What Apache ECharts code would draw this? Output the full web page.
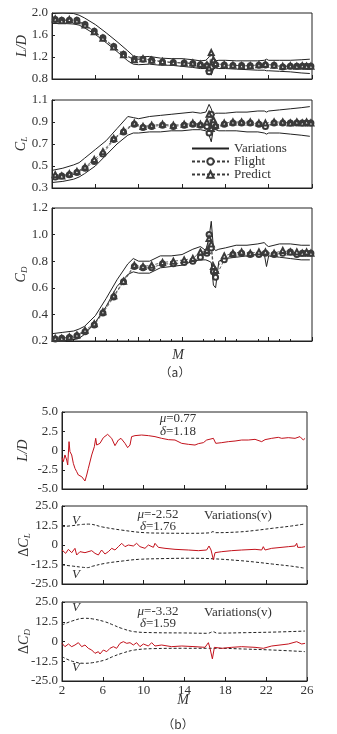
<!DOCTYPE html>
<html>
<head>
<meta charset="utf-8">
<script src="https://cdn.jsdelivr.net/npm/echarts@6/dist/echarts.min.js"></script>
<style>
  html, body { margin: 0; padding: 0; background: #fff; }
  #chart { width: 337px; height: 734px; }
</style>
</head>
<body>
<div id="chart"></div>
<script>
// ---- (a) flight / predict markers ----
const mA = [2.3, 2.9, 3.6, 4.3, 5.05, 5.9, 6.7, 7.7, 8.6, 9.6, 10.4, 11.2, 12.2, 13.2, 14.2, 15.0, 15.7, 16.3, 16.5, 16.7, 16.9, 17.1, 17.9, 18.7, 19.5, 20.3, 21.1, 21.7, 22.5, 23.3, 24.0, 24.6, 25.1, 25.5, 25.9];
const ldFlight = [1.88, 1.87, 1.87, 1.87, 1.79, 1.67, 1.55, 1.39, 1.25, 1.16, 1.16, 1.14, 1.11, 1.10, 1.09, 1.08, 1.06, 1.04, 0.93, 1.02, 1.10, 1.06, 1.055, 1.045, 1.045, 1.04, 1.05, 1.055, 1.05, 1.02, 1.03, 1.03, 1.03, 1.03, 1.03];
const ldPredict = [1.89, 1.86, 1.88, 1.86, 1.78, 1.66, 1.54, 1.38, 1.24, 1.15, 1.17, 1.14, 1.12, 1.10, 1.09, 1.09, 1.07, 1.06, 1.00, 1.28, 1.15, 1.08, 1.06, 1.05, 1.04, 1.04, 1.06, 1.07, 1.05, 1.03, 1.04, 1.03, 1.04, 1.03, 1.03];
const clFlight = [0.40, 0.41, 0.42, 0.44, 0.48, 0.54, 0.61, 0.74, 0.81, 0.88, 0.85, 0.86, 0.87, 0.86, 0.87, 0.88, 0.87, 0.86, 0.80, 0.97, 0.88, 0.86, 0.88, 0.89, 0.89, 0.89, 0.88, 0.86, 0.89, 0.89, 0.89, 0.89, 0.89, 0.89, 0.89];
const clPredict = [0.42, 0.41, 0.43, 0.45, 0.49, 0.56, 0.63, 0.75, 0.82, 0.89, 0.86, 0.87, 0.88, 0.87, 0.88, 0.89, 0.88, 0.90, 0.97, 0.84, 0.92, 0.87, 0.89, 0.90, 0.90, 0.90, 0.89, 0.89, 0.90, 0.90, 0.89, 0.90, 0.89, 0.90, 0.89];
const cdFlight = [0.215, 0.22, 0.227, 0.24, 0.27, 0.32, 0.41, 0.53, 0.645, 0.76, 0.75, 0.75, 0.78, 0.78, 0.79, 0.80, 0.83, 0.86, 1.00, 0.90, 0.72, 0.68, 0.81, 0.85, 0.86, 0.85, 0.85, 0.86, 0.85, 0.86, 0.87, 0.85, 0.86, 0.86, 0.86];
const cdPredict = [0.22, 0.22, 0.23, 0.245, 0.28, 0.33, 0.42, 0.54, 0.65, 0.77, 0.76, 0.77, 0.79, 0.80, 0.81, 0.82, 0.87, 0.88, 0.97, 0.93, 0.76, 0.73, 0.84, 0.86, 0.87, 0.86, 0.87, 0.87, 0.86, 0.88, 0.87, 0.87, 0.86, 0.87, 0.86];

// ---- (a) variation envelopes ----
const mVar = [2.0, 3.0, 4.0, 4.5, 5.0, 6.0, 7.0, 8.0, 9.0, 9.5, 10.0, 11.0, 12.0, 13.0, 14.0, 15.0, 15.7, 16.2, 16.5, 16.7, 16.9, 17.1, 17.4, 18.0, 19.0, 20.0, 21.0, 21.6, 21.8, 22.0, 23.0, 24.0, 25.0, 25.8];
const ldUpper = [1.99, 2.00, 1.99, 1.96, 1.91, 1.79, 1.64, 1.48, 1.31, 1.22, 1.20, 1.21, 1.18, 1.17, 1.17, 1.15, 1.13, 1.14, 1.20, 1.31, 1.18, 1.13, 1.14, 1.14, 1.13, 1.13, 1.13, 1.14, 1.16, 1.14, 1.14, 1.14, 1.15, 1.16];
const ldLower = [1.81, 1.81, 1.80, 1.78, 1.73, 1.61, 1.46, 1.30, 1.13, 1.07, 1.06, 1.07, 1.05, 1.05, 1.03, 1.01, 0.99, 0.99, 0.93, 0.87, 0.98, 1.00, 0.99, 0.99, 0.98, 0.97, 0.96, 0.96, 0.95, 0.95, 0.94, 0.93, 0.91, 0.90];
const clUpper = [0.46, 0.48, 0.51, 0.53, 0.57, 0.65, 0.73, 0.84, 0.95, 0.94, 0.93, 0.95, 0.96, 0.97, 0.98, 0.99, 0.98, 0.99, 1.06, 1.02, 0.96, 0.98, 0.98, 0.98, 0.99, 0.99, 1.00, 1.00, 0.99, 1.00, 1.01, 1.02, 1.03, 1.04];
const clLower = [0.35, 0.36, 0.38, 0.40, 0.43, 0.50, 0.60, 0.70, 0.78, 0.80, 0.80, 0.81, 0.81, 0.82, 0.82, 0.83, 0.83, 0.82, 0.78, 0.72, 0.84, 0.83, 0.82, 0.82, 0.82, 0.81, 0.81, 0.80, 0.79, 0.80, 0.80, 0.79, 0.78, 0.77];
const cdUpper = [0.255, 0.265, 0.275, 0.29, 0.31, 0.39, 0.52, 0.66, 0.78, 0.82, 0.80, 0.80, 0.84, 0.84, 0.85, 0.89, 0.91, 0.88, 0.98, 1.10, 0.90, 0.88, 0.89, 0.90, 0.92, 0.92, 0.93, 0.94, 0.92, 0.91, 0.93, 0.93, 0.92, 0.92];
const cdLower = [0.20, 0.20, 0.21, 0.22, 0.25, 0.34, 0.46, 0.61, 0.70, 0.72, 0.71, 0.71, 0.75, 0.76, 0.77, 0.80, 0.81, 0.81, 0.80, 0.79, 0.62, 0.60, 0.80, 0.82, 0.83, 0.84, 0.85, 0.85, 0.76, 0.84, 0.83, 0.82, 0.81, 0.81];

// ---- (b) deviations ----
const mLdB = [2.0, 2.13, 2.29, 2.46, 2.56, 2.69, 2.78, 2.95, 3.11, 3.27, 3.44, 3.60, 3.76, 3.93, 4.09, 4.25, 4.42, 4.58, 4.91, 5.17, 5.30, 5.40, 5.72, 6.05, 6.47, 6.87, 7.19, 7.52, 7.78, 8.17, 8.43, 8.66, 8.82, 9.15, 9.80, 10.46, 11.11, 11.76, 12.42, 13.07, 13.72, 14.38, 15.03, 15.36, 15.85, 16.17, 16.34, 16.83, 17.06, 17.65, 18.30, 18.95, 19.60, 20.25, 20.91, 21.56, 21.89, 22.54, 23.19, 23.52, 24.17, 24.83, 25.31, 25.64, 25.81];
const ldDelta = [-0.93, -1.45, -0.58, -1.23, -1.88, 1.15, -0.15, -0.58, -1.67, -2.32, -2.75, -3.18, -2.97, -3.40, -3.18, -3.96, -3.18, -2.32, -0.58, 0.50, 1.58, 0.71, 0.93, 1.67, 2.10, 1.58, 0.63, 1.36, 1.58, 0.93, 0.37, 0.71, 1.80, 1.93, 2.01, 1.93, 1.80, 1.58, 1.41, 1.36, 0.93, 0.80, 0.71, 0.89, 1.02, 1.36, 1.15, 1.58, 0.93, 1.02, 1.15, 1.23, 1.36, 1.36, 1.45, 1.15, 1.41, 1.58, 1.71, 1.58, 1.67, 1.58, 1.80, 1.36, 1.58];

const mClB = [2.0, 2.13, 2.36, 2.63, 2.95, 3.27, 3.44, 3.76, 4.25, 4.91, 5.23, 5.56, 5.88, 6.21, 6.54, 6.87, 7.19, 7.52, 7.85, 8.17, 8.50, 8.99, 9.31, 9.64, 10.13, 10.46, 10.95, 11.11, 11.44, 12.09, 13.07, 14.38, 15.36, 16.17, 16.40, 16.60, 16.83, 16.99, 17.65, 18.62, 19.60, 20.91, 21.56, 21.72, 21.89, 22.54, 24.17, 24.83, 24.99, 25.09, 25.48, 25.81];
const clDelta = [-3.21, -2.14, -5.34, -2.78, -4.91, -2.14, -6.41, -4.27, -4.91, -3.63, -5.34, -6.41, -3.21, -5.77, -4.27, -2.14, -3.21, -1.07, 1.07, -1.07, 0.0, -0.64, 1.07, -1.07, -2.14, 0.0, -1.50, 1.07, -1.50, -2.14, -2.78, -3.21, -3.63, -3.21, -0.64, -3.21, -9.5, -4.91, -4.27, -3.63, -3.21, -2.78, -3.21, -1.07, -3.21, -2.14, -1.07, -0.64, 1.07, -1.50, -1.50, -1.07];
const mClV = [2.0, 3.0, 4.0, 4.6, 6.0, 7.8, 10.1, 12.0, 14.4, 16.5, 16.8, 17.0, 19.4, 21.0, 22.6, 24.5, 25.8];
const clVUp = [11.75, 12.4, 13.2, 13.4, 11.5, 9.6, 7.9, 7.6, 7.5, 7.8, 8.6, 7.9, 8.4, 9.4, 10.7, 12.2, 13.5];
const mClVLo = [2.0, 3.0, 3.9, 4.5, 5.0, 6.2, 8.0, 9.5, 12.0, 14.4, 16.7, 19.4, 21.0, 22.6, 24.5, 25.8];
const clVLo = [-12.8, -13.5, -14.2, -14.5, -13.6, -11.8, -10.2, -9.2, -8.7, -8.5, -8.8, -10.0, -11.0, -12.2, -13.6, -14.9];

const mCdB = [2.0, 2.29, 2.63, 2.95, 3.27, 3.60, 3.93, 4.25, 4.58, 4.91, 5.23, 5.56, 5.72, 6.05, 6.38, 6.70, 7.03, 7.35, 7.68, 8.01, 8.34, 8.66, 8.99, 9.31, 9.64, 9.97, 10.46, 10.78, 11.11, 11.76, 12.74, 13.72, 15.03, 16.01, 16.34, 16.50, 16.73, 16.93, 17.65, 18.62, 19.60, 20.91, 21.72, 22.54, 24.17, 24.99, 25.48, 25.81];
const cdDelta = [-1.16, -3.27, -1.58, -3.27, -2.22, -0.74, -3.27, -2.22, -4.32, -5.38, -7.49, -6.43, -7.91, -5.38, -6.43, -4.32, -3.27, -4.32, -1.16, -0.1, -1.16, -0.74, -2.22, -0.74, -3.27, -1.58, -2.85, -0.74, -2.85, -2.22, -3.27, -2.85, -3.27, -3.69, -0.74, -4.32, -11.0, -3.69, -4.32, -3.69, -3.27, -3.69, -4.32, -2.85, -1.58, -0.1, -1.58, -1.16];
const mCdV = [2.0, 3.0, 4.2, 5.0, 6.2, 7.0, 7.85, 9.1, 11.0, 14.0, 16.3, 16.8, 17.2, 20.0, 23.0, 25.8];
const cdVUp = [10.4, 13.0, 14.7, 14.3, 12.5, 10.5, 8.3, 6.2, 5.6, 5.4, 5.2, 6.2, 5.3, 5.6, 6.0, 6.6];
const cdVLo = [-9.6, -12.5, -13.8, -13.4, -11.7, -9.5, -7.5, -5.4, -4.5, -4.3, -4.3, -4.3, -4.3, -4.8, -5.5, -6.4];

// ---- axis ticks ----
const mTicks = [2, 6, 10, 14, 18, 22, 26];
const ldTicksA = [0.8, 1.2, 1.6, 2.0];
const clTicksA = [0.3, 0.5, 0.7, 0.9, 1.1];
const cdTicksA = [0.2, 0.4, 0.6, 0.8, 1.0, 1.2];
const ldTicksB = [-5, -2.5, 0, 2.5, 5];
const dTicksB = [-25, -12.5, 0, 12.5, 25];

const SERIF = "'Liberation Serif', 'DejaVu Serif', serif";
const INK = '#222';
const MARK = '#3a3a3a';
const RED = '#c3121c';
const zip = (xs, ys) => xs.map((x, i) => [x, ys[i]]);

const chart = echarts.init(document.getElementById('chart'), null, { renderer: 'canvas' });

const grids = [
  { left: 52, top: 13, width: 260, height: 66 },
  { left: 52, top: 100, width: 260, height: 88 },
  { left: 52, top: 208, width: 260, height: 133 },
  { left: 62, top: 412, width: 245, height: 77 },
  { left: 62, top: 506, width: 245, height: 78 },
  { left: 62, top: 602, width: 245, height: 79 }
].map(g => Object.assign({ show: true, borderColor: INK, borderWidth: 1, backgroundColor: 'transparent' }, g));

const xAxes = grids.map((g, i) => ({
  type: 'value', gridIndex: i, min: 2, max: 26,
  axisLine: { show: true, onZero: false, lineStyle: { color: INK, width: 1 } },
  axisTick: { show: true, inside: true, length: 4, lineStyle: { color: INK }, customValues: mTicks },
  minorTick: { show: i === 2, splitNumber: 5, length: 2, lineStyle: { color: INK } },
  axisLabel: { show: i === 5, customValues: mTicks, color: '#333', fontFamily: SERIF, fontSize: 13, margin: 3 },
  splitLine: { show: false }
}));

const fmtA = v => v.toFixed(1);
const fmtB = v => (v === 0 ? '0' : v.toFixed(1));
const nameRich = {
  c: { fontStyle: 'italic', fontFamily: SERIF, fontSize: 14, color: '#333' },
  s: { fontStyle: 'italic', fontFamily: SERIF, fontSize: 9, color: '#333', verticalAlign: 'bottom', padding: [6, 0, 0, 0] }
};
function yAxis(i, min, max, ticks, fmt, name, gap) {
  return {
    type: 'value', gridIndex: i, min: min, max: max,
    name: name, nameLocation: 'middle', nameGap: gap, nameRotate: 90, nameMoveOverlap: false,
    nameTextStyle: { fontFamily: SERIF, fontSize: 14, color: '#333', rich: nameRich },
    axisLine: { show: true, lineStyle: { color: INK } },
    axisTick: { show: true, inside: true, length: 3, customValues: ticks, lineStyle: { color: INK } },
    axisLabel: { customValues: ticks, formatter: fmt, color: '#333', fontFamily: SERIF, fontSize: 13, margin: 4 },
    splitLine: { show: false }
  };
}
const yAxes = [
  yAxis(0, 0.8, 2.0, ldTicksA, fmtA, '{c|L/D}', 23),
  yAxis(1, 0.3, 1.1, clTicksA, fmtA, '{c|C}{s|L}', 23),
  yAxis(2, 0.2, 1.2, cdTicksA, fmtA, '{c|C}{s|D}', 23),
  yAxis(3, -5, 5, ldTicksB, fmtB, '{c|L/D}', 32),
  yAxis(4, -25, 25, dTicksB, fmtB, '\u0394{c|C}{s|L}', 30),
  yAxis(5, -25, 25, dTicksB, fmtB, '\u0394{c|C}{s|D}', 30)
];

const series = [];
const panelsA = [
  [ldUpper, ldLower, ldFlight, ldPredict],
  [clUpper, clLower, clFlight, clPredict],
  [cdUpper, cdLower, cdFlight, cdPredict]
];
panelsA.forEach((p, i) => {
  [p[0], p[1]].forEach(env => series.push({
    name: 'Variations', type: 'line', xAxisIndex: i, yAxisIndex: i,
    data: zip(mVar, env), showSymbol: false, symbol: 'none',
    lineStyle: { color: INK, width: 1 }, itemStyle: { color: INK }
  }));
  series.push({
    name: 'Flight', type: 'line', xAxisIndex: i, yAxisIndex: i,
    data: zip(mA, p[2]), symbol: 'emptyCircle', symbolSize: 5,
    lineStyle: { color: MARK, width: 0.8, type: [3, 2] }, itemStyle: { color: MARK, borderWidth: 0.8 }
  });
  series.push({
    name: 'Predict', type: 'line', xAxisIndex: i, yAxisIndex: i,
    data: zip(mA, p[3]), symbol: 'emptyTriangle', symbolSize: 5,
    lineStyle: { color: MARK, width: 0.8, type: [3, 2] }, itemStyle: { color: MARK, borderWidth: 0.8 }
  });
});

const dashV = { color: INK, width: 1, type: [3, 2] };
function redLine(i, xs, ys) {
  return { type: 'line', xAxisIndex: i, yAxisIndex: i, data: zip(xs, ys), symbol: 'none', lineStyle: { color: RED, width: 1 } };
}
function vLine(i, xs, ys) {
  return { type: 'line', xAxisIndex: i, yAxisIndex: i, data: zip(xs, ys), symbol: 'none', smooth: 0.4, lineStyle: dashV };
}
series.push(redLine(3, mLdB, ldDelta));
series.push(vLine(4, mClV, clVUp), vLine(4, mClVLo, clVLo), redLine(4, mClB, clDelta));
series.push(vLine(5, mCdV, cdVUp), vLine(5, mCdV, cdVLo), redLine(5, mCdB, cdDelta));

const italic = { fontStyle: 'italic', fontFamily: SERIF, fontSize: 13, fill: '#333' };
function txt(x, y, text, size, rich, family) {
  return {
    type: 'text', x: x, y: y, silent: true,
    style: {
      text: text, fontFamily: family || SERIF, fontSize: size || 13, fill: '#333',
      textAlign: 'center', textVerticalAlign: 'middle', align: 'center', verticalAlign: 'middle',
      rich: rich || { i: italic }
    }
  };
}

chart.setOption({
  animation: false,
  backgroundColor: '#fff',
  grid: grids,
  xAxis: xAxes,
  yAxis: yAxes,
  legend: {
    data: [
      { name: 'Variations', itemStyle: { opacity: 0 } },
      { name: 'Flight' },
      { name: 'Predict' }
    ],
    orient: 'vertical', left: 186, top: 137, itemWidth: 37, itemHeight: 8, itemGap: 0,
    itemStyle: { borderWidth: 0.8 },
    textStyle: { fontFamily: SERIF, fontSize: 13, color: '#333', lineHeight: 12 },
    selectedMode: false
  },
  graphic: [
    txt(178, 355, '{i|M}', 14, { i: Object.assign({}, italic, { fontSize: 14 }) }),
    txt(175, 372, '\uff08a\uff09', 12, null, "'Noto Sans CJK SC', sans-serif"),
    txt(178, 419, '{i|\u03bc}=0.77'),
    txt(178, 432, '{i|\u03b4}=1.18'),
    txt(76, 521, '{i|V}'),
    txt(158, 515, '{i|\u03bc}=-2.52'),
    txt(158, 527, '{i|\u03b4}=1.76'),
    txt(238, 516, 'Variations(v)'),
    txt(76, 575, '{i|V}'),
    txt(76, 608, '{i|V}'),
    txt(158, 612, '{i|\u03bc}=-3.32'),
    txt(158, 624, '{i|\u03b4}=1.59'),
    txt(238, 613, 'Variations(v)'),
    txt(76, 668, '{i|V}'),
    txt(183, 700, '{i|M}', 14, { i: Object.assign({}, italic, { fontSize: 14 }) }),
    txt(178, 724, '\uff08b\uff09', 12, null, "'Noto Sans CJK SC', sans-serif")
  ],
  series: series
});
</script>
</body>
</html>
